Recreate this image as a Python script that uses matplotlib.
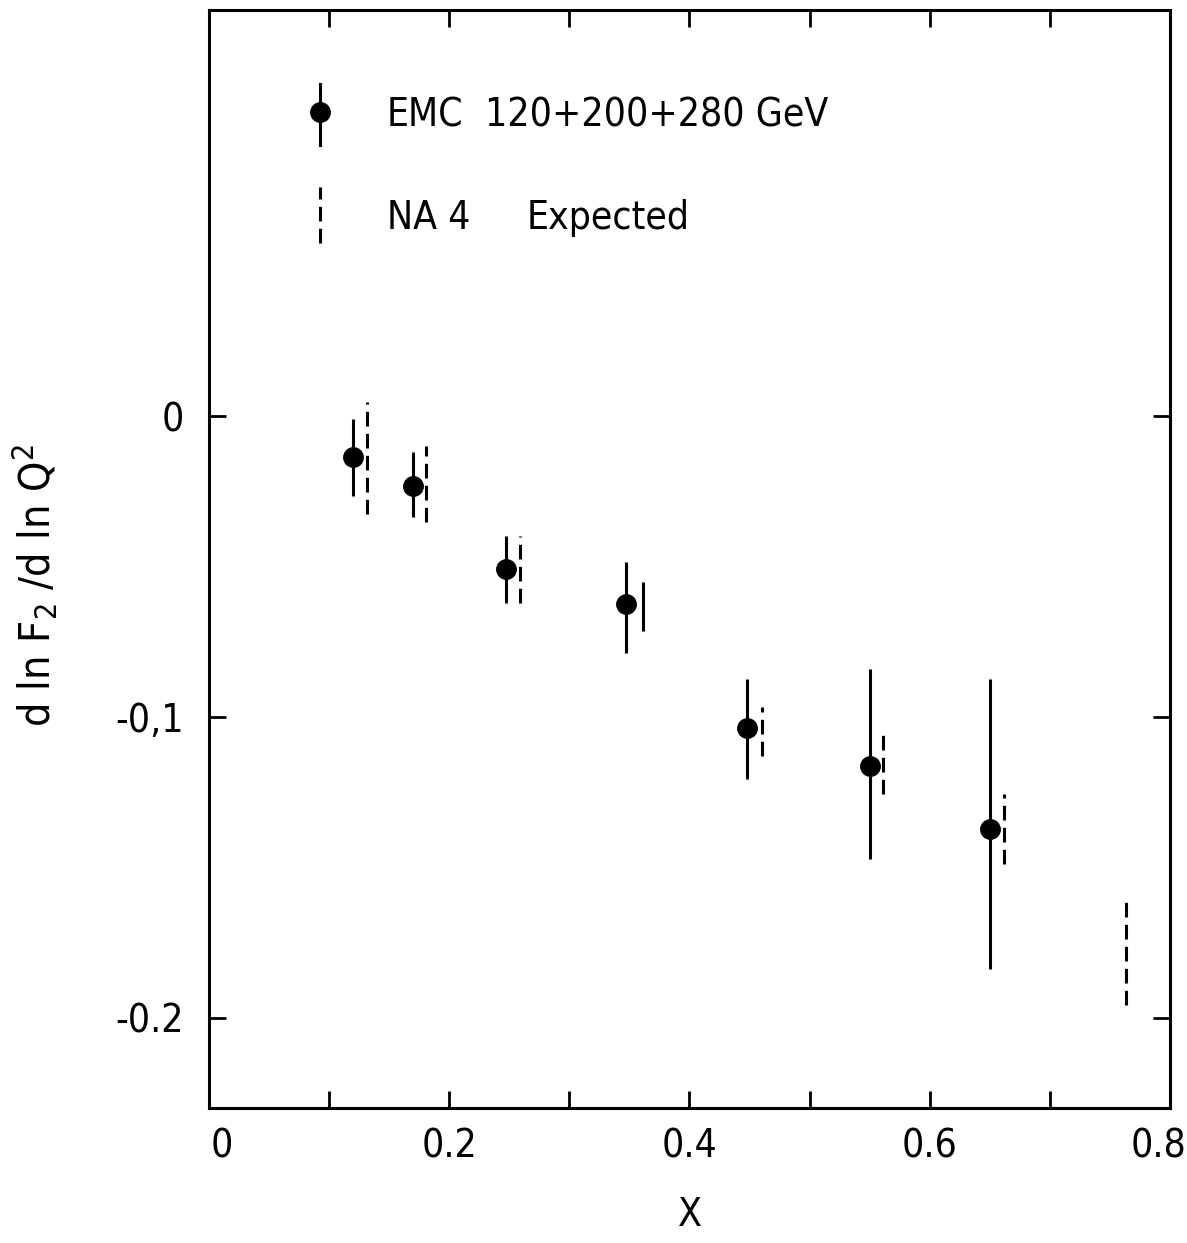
# EMC d ln F2 / d ln Q^2 versus x, compared with NA4 expectation

import matplotlib
matplotlib.use("Agg")
import matplotlib.pyplot as plt

# EMC data points (x, slope, error)
emc_x = [0.12, 0.17, 0.247, 0.347, 0.448, 0.55, 0.65]
emc_y = [-0.0136, -0.0233, -0.0508, -0.0625, -0.1037, -0.1163, -0.1372]
emc_err_lo = [0.0130, 0.0103, 0.0112, 0.0162, 0.0169, 0.0309, 0.0465]
emc_err_hi = [0.0126, 0.0113, 0.0108, 0.0140, 0.0163, 0.0323, 0.0498]

# NA4 expected ranges (x, low, high); 0.36 drawn solid in the original
na4_x = [0.132, 0.181, 0.259, 0.361, 0.46, 0.561, 0.662, 0.763]
na4_lo = [-0.0326, -0.0352, -0.062, -0.0714, -0.113, -0.1256, -0.149, -0.1957]
na4_hi = [0.0047, -0.010, -0.040, -0.055, -0.0967, -0.1056, -0.1256, -0.1615]
na4_solid = [False, False, False, True, False, False, False, False]

x_ticks = [0.1, 0.2, 0.3, 0.4, 0.5, 0.6, 0.7]
x_labels = ["", "0.2", "", "0.4", "", "0.6", ""]
# the end labels sit a little inside the frame in the original
x_end_ticks = [0.011, 0.79]
x_end_labels = ["0", "0.8"]
y_ticks = [0.0, -0.1, -0.2]
y_labels = ["0", "-0,1", "-0.2"]

legend_labels = ["EMC", "120+200+280 GeV", "NA 4", "Expected"]

plt.rcParams["font.family"] = ["DejaVu Sans"]
plt.rcParams["font.stretch"] = "condensed"
fs = 28
lw = 2.2
dash = (0, (4.8, 2.4))

fig = plt.figure(figsize=(11.87, 12.43), dpi=100)
ax = fig.add_axes([0.176, 0.1086, 0.8097, 0.8834])

# EMC points with error bars
ax.errorbar(emc_x, emc_y, yerr=[emc_err_lo, emc_err_hi], fmt="o", color="black",
            markersize=14, elinewidth=lw, capsize=0)

# NA4 expected bars
for x, lo, hi, solid in zip(na4_x, na4_lo, na4_hi, na4_solid):
    ax.vlines(x, lo, hi, colors="black", linewidth=lw,
              linestyles="solid" if solid else dash)

ax.set_xlim(0, 0.8)
ax.set_ylim(-0.23, 0.135)

ax.set_xticks(x_ticks)
ax.set_xticklabels(x_labels, fontsize=fs)
ax.set_xticks(x_end_ticks, minor=True)
ax.set_xticklabels(x_end_labels, minor=True, fontsize=fs)
ax.set_yticks(y_ticks)
ax.set_yticklabels(y_labels, fontsize=fs)

ax.tick_params(axis="both", which="major", direction="in", length=12, width=2,
               top=True, right=True)
ax.tick_params(axis="x", which="minor", length=0, pad=14)
ax.tick_params(axis="x", which="major", pad=14)
ax.tick_params(axis="y", which="major", pad=18)

for sp in ax.spines.values():
    sp.set_linewidth(lw)

ax.set_xlabel("X", fontsize=fs, labelpad=22)
ax.set_ylabel(r"d ln F$_2$ /d ln Q$^2$", fontsize=31)
ax.yaxis.set_label_coords(-0.155, 0.476)

# legend drawn in axes coordinates
ax.plot([0.1155, 0.1155], [0.877, 0.933], color="black", linewidth=lw,
        transform=ax.transAxes)
ax.plot([0.1155], [0.907], "o", color="black", markersize=14, transform=ax.transAxes)
ax.plot([0.1155, 0.1155], [0.788, 0.839], color="black", linewidth=lw,
        linestyle=dash, transform=ax.transAxes)
ax.text(0.185, 0.904, legend_labels[0], fontsize=fs, va="center", transform=ax.transAxes)
ax.text(0.287, 0.904, legend_labels[1], fontsize=fs, va="center", transform=ax.transAxes)
ax.text(0.185, 0.8106, legend_labels[2], fontsize=fs, va="center", transform=ax.transAxes)
ax.text(0.331, 0.8106, legend_labels[3], fontsize=fs, va="center", transform=ax.transAxes)

fig.savefig("out.png", dpi=100)
